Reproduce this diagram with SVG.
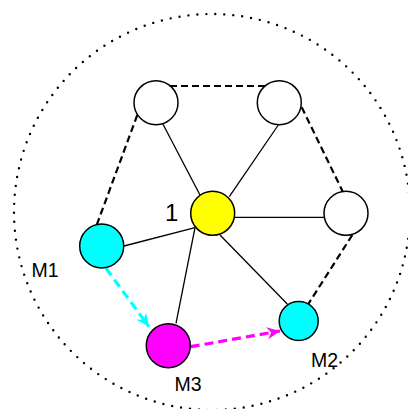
<svg xmlns="http://www.w3.org/2000/svg" width="408" height="409" viewBox="0 0 408 409">
<style>
.n{stroke:#000;stroke-width:1.5}
.s{stroke:#000;stroke-width:1.3;fill:none}
.d{stroke:#000;stroke-width:2.2;fill:none;stroke-dasharray:7 4}
.t{font-family:"Liberation Sans",Arial,sans-serif;fill:#000}
</style>
<defs>
<marker id="ac" markerWidth="16" markerHeight="14" viewBox="-14 -7 16 14" refX="0" refY="0" orient="auto" markerUnits="userSpaceOnUse">
<path d="M0,0 L-13,-6 L-9,0 L-13,6 Z" fill="#00ffff"/>
</marker>
<marker id="am" markerWidth="16" markerHeight="14" viewBox="-14 -7 16 14" refX="0" refY="0" orient="auto" markerUnits="userSpaceOnUse">
<path d="M0,0 L-13,-6 L-9,0 L-13,6 Z" fill="#ff00ff"/>
</marker>
</defs>
<circle cx="212" cy="212" r="198" fill="none" stroke="#000" stroke-width="2.4" stroke-linecap="round" stroke-dasharray="0 9"/>
<g id="connectors">
<line class="s" x1="161.7" y1="121.7" x2="200" y2="195"/>
<line class="s" x1="278.3" y1="125" x2="229.3" y2="196.7"/>
<line class="s" x1="235" y1="217.3" x2="324" y2="217.3"/>
<line class="s" x1="220" y1="235" x2="287.3" y2="304"/>
<line class="s" x1="124" y1="246" x2="195" y2="227.7"/>
<line class="s" x1="176" y1="323.3" x2="195" y2="227.7"/>
<line class="d" x1="170" y1="86" x2="266.7" y2="86"/>
<line class="d" x1="137.3" y1="115" x2="96.7" y2="225"/>
<line class="d" x1="301.7" y1="107.3" x2="343.3" y2="192.7"/>
<line class="d" x1="352.3" y1="235" x2="308.3" y2="304"/>
<line x1="106" y1="268.3" x2="149" y2="326.7" stroke="#00ffff" stroke-width="3.2" stroke-dasharray="9 5" marker-end="url(#ac)"/>
<line x1="190.7" y1="346.7" x2="280" y2="331" stroke="#ff00ff" stroke-width="3.2" stroke-dasharray="9 5" marker-end="url(#am)"/>
</g>
<g id="n-tl"><circle class="n" cx="156" cy="102.7" r="22" fill="#fff"/></g>
<g id="n-tr"><circle class="n" cx="279.3" cy="102.7" r="22" fill="#fff"/></g>
<g id="n-r"><circle class="n" cx="346" cy="213.3" r="22" fill="#fff"/></g>
<g id="n1"><circle class="n" cx="212.7" cy="213.3" r="22" fill="#ffff00"/><text class="t" x="165" y="220.5" font-size="24">1</text></g>
<g id="M1"><circle class="n" cx="101.7" cy="246" r="22" fill="#00ffff"/><text class="t" x="31.5" y="276.5" font-size="19.5">M1</text></g>
<g id="M3"><circle class="n" cx="168.3" cy="345.7" r="22" fill="#ff00ff"/><text class="t" x="174.5" y="390.7" font-size="19.5">M3</text></g>
<g id="M2"><circle class="n" cx="298.7" cy="321" r="19.5" fill="#00ffff"/><text class="t" x="311" y="367.3" font-size="19.5">M2</text></g>
</svg>
